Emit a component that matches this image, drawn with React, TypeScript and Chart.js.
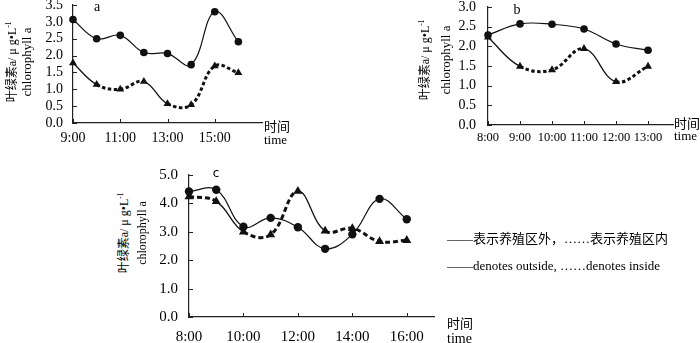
import React, { useEffect, useRef } from 'react';
import { Chart, registerables } from 'chart.js';

Chart.register(...registerables);

const SERIF = '"Liberation Serif", "Times New Roman", "Noto Sans CJK SC", serif';

// ---- panel a ----
const aHours = [9, 10, 11, 12, 13, 14, 15, 16];
const aOutside = [3.07, 2.5, 2.6, 2.09, 2.06, 1.73, 3.3, 2.41];
const aInside = [1.78, 1.14, 1.0, 1.23, 0.57, 0.54, 1.69, 1.49];
const aXTicks = [9, 11, 13, 15];
const aXLabels = ['9:00', '11:00', '13:00', '15:00'];
const aYTicks = [0, 0.5, 1, 1.5, 2, 2.5, 3, 3.5];
const aYLabels = ['0.0', '0.5', '1.0', '1.5', '2.0', '2.5', '3.0', '3.5'];

// ---- panel b ----
const bHours = [8, 9, 10, 11, 12, 13];
const bOutside = [2.29, 2.57, 2.56, 2.44, 2.06, 1.9];
const bInside = [2.23, 1.49, 1.4, 1.94, 1.1, 1.49];
const bXTicks = [8, 9, 10, 11, 12, 13];
const bXLabels = ['8:00', '9:00', '10:00', '11:00', '12:00', '13:00'];
const bYTicks = [0, 0.5, 1, 1.5, 2, 2.5, 3];
const bYLabels = ['0.0', '0.5', '1.0', '1.5', '2.0', '2.5', '3.0'];

// ---- panel c ----
const cHours = [8, 9, 10, 11, 12, 13, 14, 15, 16];
const cOutside = [4.42, 4.48, 3.18, 3.49, 3.16, 2.4, 2.91, 4.16, 3.44];
const cInside = [4.24, 4.07, 3.0, 2.9, 4.43, 3.03, 3.12, 2.66, 2.7];
const cXTicks = [8, 10, 12, 14, 16];
const cXLabels = ['8:00', '10:00', '12:00', '14:00', '16:00'];
const cYTicks = [0, 1, 2, 3, 4, 5];
const cYLabels = ['0.0', '1.0', '2.0', '3.0', '4.0', '5.0'];

const yTitleCn = '叶绿素a/ μ g•L';
const yTitleEn = 'chlorophyll a';
const timeCn = '时间';
const timeEn = 'time';
const legendCn = '——表示养殖区外，……表示养殖区内';
const legendEn = '——denotes outside, ……denotes inside';

type Spec = {
  hours: number[]; outside: number[]; inside: number[];
  xTicks: number[]; xLabels: string[]; yTicks: number[]; yLabels: string[];
  xMin: number; xMax: number; yMax: number;
  thin: number[];
  canvas: { left: number; top: number; width: number; height: number };
  pad: { left: number; top: number; right: number; bottom: number };
  yW: number; xH: number; fontX: number; fontY: number; padX: number; padY: number;
  dash: number[]; circleR: number; triR: number;
};

const innerTicks = {
  id: 'innerTicks',
  beforeDatasetsDraw(chart: any) {
    const { ctx, chartArea, scales } = chart;
    const x = scales.x, y = scales.y;
    ctx.save();
    ctx.strokeStyle = '#222';
    ctx.lineWidth = 1;
    x.ticks.forEach((t: any) => {
      const px = Math.round(x.getPixelForValue(t.value)) + 0.5;
      ctx.beginPath();
      ctx.moveTo(px, chartArea.bottom);
      ctx.lineTo(px, chartArea.bottom - 4);
      ctx.stroke();
    });
    y.ticks.forEach((t: any) => {
      const py = Math.round(y.getPixelForValue(t.value)) + 0.5;
      ctx.beginPath();
      ctx.moveTo(chartArea.left, py);
      ctx.lineTo(chartArea.left + 4, py);
      ctx.stroke();
    });
    ctx.restore();
  },
};

function makeConfig(s: Spec): any {
  return {
    type: 'line',
    data: {
      datasets: [
        {
          data: s.hours.map((h, i) => ({ x: h, y: s.outside[i] })),
          borderColor: '#111',
          backgroundColor: '#111',
          borderWidth: 1.2,
          tension: 0.4,
          pointStyle: 'circle',
          pointRadius: s.circleR,
          pointBackgroundColor: '#111',
          pointBorderWidth: 0,
          clip: false,
        },
        {
          data: s.hours.map((h, i) => ({ x: h, y: s.inside[i] })),
          borderColor: '#111',
          backgroundColor: '#111',
          borderWidth: 3,
          borderDash: s.dash,
          borderCapStyle: 'butt',
          tension: 0.4,
          pointStyle: 'triangle',
          pointRadius: s.triR,
          pointBackgroundColor: '#111',
          pointBorderWidth: 0,
          clip: false,
          segment: {
            borderDash: (ctx: any) => (s.thin.includes(ctx.p0DataIndex) ? [] : s.dash),
            borderWidth: (ctx: any) => (s.thin.includes(ctx.p0DataIndex) ? 1.3 : 3),
          },
        },
      ],
    },
    options: {
      responsive: false,
      animation: false,
      devicePixelRatio: 1,
      layout: { padding: s.pad },
      plugins: { legend: { display: false }, tooltip: { enabled: false }, title: { display: false } },
      scales: {
        x: {
          type: 'linear',
          min: s.xMin,
          max: s.xMax,
          grid: { display: false, drawTicks: false },
          border: { display: true, color: '#222', width: 1.2 },
          ticks: {
            autoSkip: false,
            maxRotation: 0,
            padding: s.padX,
            color: '#000',
            font: { family: SERIF, size: s.fontX },
            callback: (_v: any, i: number) => s.xLabels[i],
          },
          afterBuildTicks: (sc: any) => { sc.ticks = s.xTicks.map((v) => ({ value: v })); },
          afterFit: (sc: any) => { sc.height = s.xH; sc.paddingLeft = 0; sc.paddingRight = 0; },
        },
        y: {
          type: 'linear',
          min: 0,
          max: s.yMax,
          grid: { display: false, drawTicks: false },
          border: { display: true, color: '#222', width: 1.2 },
          ticks: {
            autoSkip: false,
            padding: s.padY,
            color: '#000',
            font: { family: SERIF, size: s.fontY },
            callback: (_v: any, i: number) => s.yLabels[i],
          },
          afterBuildTicks: (sc: any) => { sc.ticks = s.yTicks.map((v) => ({ value: v })); },
          afterFit: (sc: any) => { sc.width = s.yW; sc.paddingTop = 0; sc.paddingBottom = 0; },
        },
      },
    },
    plugins: [innerTicks],
  };
}

const specA: Spec = {
  hours: aHours, outside: aOutside, inside: aInside,
  xTicks: aXTicks, xLabels: aXLabels, yTicks: aYTicks, yLabels: aYLabels,
  xMin: 9, xMax: 17, yMax: 3.5, thin: [0, 3],
  canvas: { left: 0, top: 0, width: 300, height: 160 },
  pad: { left: 40, top: 5, right: 38, bottom: 0 },
  yW: 33, xH: 37, fontX: 14, fontY: 14, padX: 7, padY: 10,
  dash: [3.5, 2.5], circleR: 3.8, triR: 4.6,
};

const specB: Spec = {
  hours: bHours, outside: bOutside, inside: bInside,
  xTicks: bXTicks, xLabels: bXLabels, yTicks: bYTicks, yLabels: bYLabels,
  xMin: 8, xMax: 13.78, yMax: 3, thin: [0, 3],
  canvas: { left: 420, top: 0, width: 280, height: 160 },
  pad: { left: 30, top: 7, right: 27, bottom: 0 },
  yW: 38, xH: 35, fontX: 12.5, fontY: 14, padX: 5, padY: 12,
  dash: [3.5, 2.5], circleR: 3.8, triR: 4.6,
};

const specC: Spec = {
  hours: cHours, outside: cOutside, inside: cInside,
  xTicks: cXTicks, xLabels: cXLabels, yTicks: cYTicks, yLabels: cYLabels,
  xMin: 8, xMax: 17, yMax: 5, thin: [1, 4],
  canvas: { left: 140, top: 160, width: 320, height: 183 },
  pad: { left: 20, top: 15, right: 26, bottom: 0 },
  yW: 29, xH: 26, fontX: 15, fontY: 15, padX: 11, padY: 11,
  dash: [5, 3], circleR: 4.2, triR: 5.2,
};

function Panel({ spec }: { spec: Spec }) {
  const ref = useRef<HTMLCanvasElement>(null);
  useEffect(() => {
    if (!ref.current) return;
    const chart = new Chart(ref.current, makeConfig(spec));
    return () => chart.destroy();
  }, [spec]);
  return (
    <canvas
      ref={ref}
      width={spec.canvas.width}
      height={spec.canvas.height}
      style={{ position: 'absolute', left: spec.canvas.left, top: spec.canvas.top, width: spec.canvas.width, height: spec.canvas.height }}
    />
  );
}

function Txt({ x, y, size, children, center = false, family = SERIF }: any) {
  const transform = center ? 'translate(-50%, -50%)' : 'translate(0, -50%)';
  return (
    <div
      style={{
        position: 'absolute', left: x, top: y, fontSize: size, lineHeight: 1,
        whiteSpace: 'nowrap', transform, color: '#000', fontFamily: family,
      }}
    >
      {children}
    </div>
  );
}

// rotated text centred at (x, y), reading bottom to top
function VTxt({ x, y, size, children }: any) {
  const W = 140;
  const H = Math.round(size * 1.2);
  return (
    <div
      style={{
        position: 'absolute', left: x - W / 2, top: y - H / 2, width: W, height: H,
        fontSize: size, lineHeight: `${H}px`, textAlign: 'center', whiteSpace: 'nowrap',
        transform: 'rotate(-90deg)', transformOrigin: '50% 50%', color: '#000', fontFamily: SERIF,
      }}
    >
      {children}
    </div>
  );
}

function YTitle({ x1, x2, y, size1, size2 }: any) {
  return (
    <>
      <VTxt x={x1} y={y} size={size1}>
        {yTitleCn}<sup style={{ fontSize: '0.6em', lineHeight: 0 }}>-1</sup>
      </VTxt>
      <VTxt x={x2} y={y} size={size2}>{yTitleEn}</VTxt>
    </>
  );
}

export default function App() {
  return (
    <div style={{ position: 'absolute', left: 0, top: 0, width: 700, height: 343, overflow: 'hidden', background: '#fff', fontFamily: SERIF }}>
      <Panel spec={specA} />
      <Panel spec={specB} />
      <Panel spec={specC} />

      <YTitle x1={12} x2={27} y={62} size1={12} size2={13} />
      <YTitle x1={425} x2={446} y={60} size1={12} size2={13} />
      <YTitle x1={124} x2={142} y={233} size1={12} size2={12} />

      <Txt x={97} y={7} size={14} center>a</Txt>
      <Txt x={517} y={10} size={14} center>b</Txt>
      <Txt x={216} y={173} size={12} center family='"DejaVu Sans", sans-serif'>c</Txt>

      <Txt x={264} y={126} size={13}>{timeCn}</Txt>
      <Txt x={264} y={139} size={13}>{timeEn}</Txt>
      <Txt x={674} y={123} size={13}>{timeCn}</Txt>
      <Txt x={674} y={135} size={13}>{timeEn}</Txt>
      <Txt x={447} y={323} size={13}>{timeCn}</Txt>
      <Txt x={447} y={339} size={14}>{timeEn}</Txt>

      <Txt x={447} y={238} size={13}>{legendCn}</Txt>
      <Txt x={447} y={265} size={13}>{legendEn}</Txt>
    </div>
  );
}
